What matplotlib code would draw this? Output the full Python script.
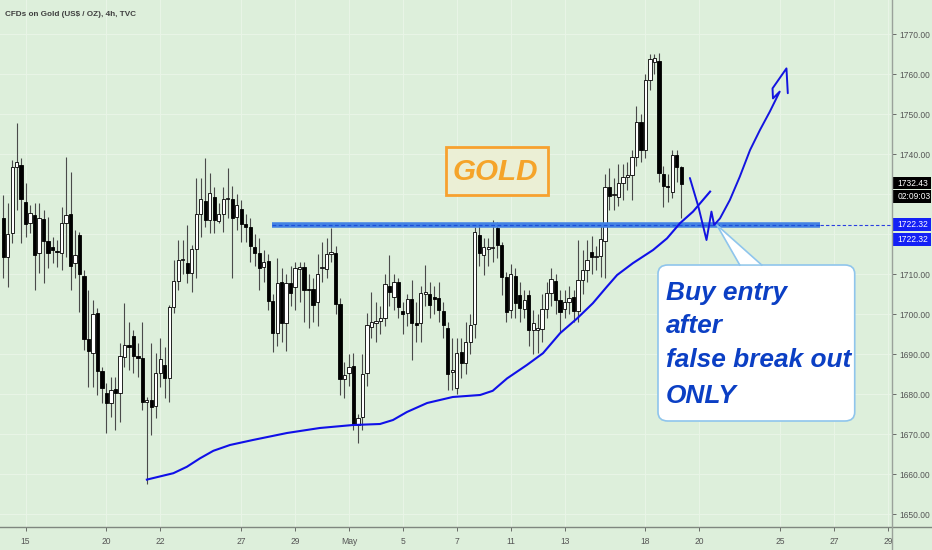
import matplotlib
matplotlib.use("Agg")
import matplotlib.pyplot as plt
import numpy as np
from matplotlib import font_manager
from matplotlib.patches import FancyBboxPatch, Rectangle, Polygon
from matplotlib.lines import Line2D

# 4h candles, first one is the 5th bar of Apr 14 (bar index -5)
opens = [1723.9, 1714.3, 1720.2, 1736.7, 1737.2, 1728.0, 1722.7, 1724.7, 1715.2, 1723.7,
         1718.2, 1716.8, 1715.6, 1715.2, 1722.7, 1725.0, 1712.7, 1719.7, 1709.6, 1693.7,
         1690.2, 1700.2, 1685.7, 1680.2, 1677.7, 1681.2, 1680.3, 1689.3, 1692.2, 1694.6,
         1689.5, 1688.9, 1678.0, 1678.5, 1677.0, 1685.2, 1687.2, 1684.1, 1701.8, 1708.3,
         1713.5, 1712.7, 1710.2, 1716.2, 1725.0, 1728.3, 1723.5, 1729.3, 1723.3, 1725.0,
         1728.7, 1728.7, 1724.3, 1726.2, 1722.5, 1721.7, 1716.7, 1715.3, 1711.7, 1713.3,
         1703.3, 1695.2, 1708.0, 1697.8, 1707.8, 1706.8, 1711.2, 1711.8, 1706.2, 1706.2,
         1703.1, 1711.4, 1711.2, 1715.0, 1715.3, 1702.5, 1683.7, 1685.3, 1687.1, 1672.2,
         1674.3, 1685.2, 1696.8, 1697.8, 1698.3, 1698.9, 1707.0, 1704.3, 1707.9, 1700.8,
         1700.2, 1703.7, 1697.8, 1697.7, 1705.0, 1705.0, 1704.3, 1703.9, 1700.8, 1696.4,
         1685.6, 1681.4, 1690.4, 1687.8, 1693.0, 1697.5, 1719.7, 1714.7, 1716.2, 1716.5,
         1721.4, 1717.2, 1709.2, 1701.0, 1709.5, 1704.7, 1701.2, 1704.7, 1696.0, 1696.0,
         1696.2, 1701.2, 1705.2, 1708.3, 1703.5, 1701.2, 1703.1, 1704.2, 1700.8, 1708.5,
         1711.0, 1715.6, 1714.2, 1714.4, 1718.3, 1731.8, 1729.7, 1729.3, 1732.7, 1734.2,
         1734.7, 1739.3, 1748.1, 1741.0, 1758.5, 1763.1, 1763.3, 1734.9, 1732.0, 1730.6,
         1739.7, 1736.7]
highs = [1729.7, 1727.7, 1738.5, 1747.7, 1739.0, 1732.7, 1727.2, 1727.7, 1727.7, 1726.0,
         1724.3, 1719.3, 1718.5, 1726.8, 1739.3, 1735.6, 1721.0, 1720.6, 1711.0, 1706.0,
         1703.5, 1701.4, 1686.8, 1682.7, 1684.3, 1684.3, 1692.7, 1702.7, 1698.0, 1696.0,
         1692.7, 1698.0, 1679.2, 1692.7, 1690.3, 1693.9, 1691.7, 1702.2, 1713.5, 1718.5,
         1718.5, 1722.2, 1717.2, 1733.9, 1733.9, 1738.9, 1735.3, 1731.8, 1727.7, 1731.8,
         1736.4, 1732.0, 1730.0, 1728.5, 1725.0, 1724.0, 1720.0, 1719.0, 1716.0, 1715.0,
         1705.0, 1714.0, 1711.5, 1710.0, 1712.0, 1713.0, 1713.0, 1713.0, 1710.0, 1709.0,
         1715.0, 1718.0, 1719.0, 1721.4, 1717.0, 1704.0, 1688.0, 1690.0, 1690.3, 1675.0,
         1690.0, 1700.2, 1705.6, 1703.0, 1702.0, 1710.0, 1714.7, 1710.0, 1709.0, 1703.0,
         1705.0, 1708.5, 1703.0, 1707.0, 1712.2, 1708.0, 1707.0, 1708.0, 1703.0, 1698.0,
         1694.0, 1694.0, 1694.0, 1698.0, 1700.0, 1721.8, 1722.5, 1719.0, 1719.0, 1723.5,
         1723.0, 1718.0, 1710.5, 1712.5, 1711.5, 1708.0, 1706.0, 1706.0, 1701.0, 1700.0,
         1705.0, 1708.0, 1711.5, 1710.0, 1706.0, 1706.0, 1707.0, 1706.0, 1718.5, 1716.0,
         1718.5, 1719.5, 1717.0, 1722.0, 1735.0, 1736.4, 1734.0, 1737.5, 1737.5, 1738.0,
         1741.0, 1752.0, 1750.0, 1760.0, 1765.0, 1765.0, 1765.2, 1737.0, 1735.0, 1741.0,
         1741.0, 1737.0]
lows = [1708.9, 1706.8, 1717.7, 1726.0, 1717.7, 1719.3, 1720.2, 1706.0, 1710.2, 1707.7,
        1711.4, 1712.7, 1711.8, 1711.0, 1714.3, 1706.0, 1709.0, 1700.6, 1691.0, 1681.8,
        1681.8, 1679.7, 1677.7, 1670.3, 1674.3, 1671.0, 1673.1, 1686.8, 1686.0, 1685.2,
        1684.3, 1676.0, 1657.5, 1669.7, 1674.0, 1681.8, 1678.9, 1678.0, 1700.2, 1706.0,
        1710.0, 1707.7, 1705.6, 1709.0, 1719.3, 1721.7, 1720.2, 1720.2, 1722.7, 1720.6,
        1724.0, 1709.0, 1721.0, 1718.0, 1718.0, 1713.0, 1712.0, 1706.0, 1708.0, 1701.0,
        1690.6, 1692.0, 1693.0, 1690.7, 1702.0, 1701.0, 1703.0, 1698.0, 1696.6, 1698.0,
        1697.0, 1708.0, 1709.0, 1713.0, 1700.0, 1679.8, 1679.0, 1682.0, 1671.0, 1667.8,
        1671.0, 1682.0, 1694.0, 1693.0, 1695.0, 1697.0, 1702.0, 1701.0, 1699.0, 1695.0,
        1697.0, 1688.5, 1693.0, 1693.0, 1702.0, 1699.0, 1700.0, 1698.0, 1694.0, 1681.0,
        1681.0, 1680.0, 1684.0, 1685.0, 1690.0, 1694.0, 1712.0, 1709.7, 1712.0, 1713.0,
        1714.0, 1704.7, 1698.0, 1699.0, 1699.0, 1698.0, 1699.0, 1692.0, 1690.0, 1690.2,
        1693.0, 1699.0, 1702.0, 1700.0, 1695.6, 1699.0, 1700.0, 1698.0, 1698.0, 1705.0,
        1708.0, 1710.0, 1711.0, 1709.2, 1709.0, 1726.0, 1726.0, 1727.0, 1728.5, 1731.0,
        1728.5, 1737.0, 1738.0, 1739.0, 1756.0, 1760.0, 1733.0, 1726.8, 1728.0, 1729.0,
        1733.0, 1723.9]
closes = [1714.3, 1720.0, 1736.8, 1738.1, 1728.7, 1722.4, 1725.2, 1714.7, 1723.9, 1718.3,
          1715.3, 1716.0, 1715.4, 1722.7, 1724.7, 1712.0, 1714.7, 1709.9, 1693.8, 1690.8,
          1700.0, 1685.7, 1681.6, 1677.8, 1681.0, 1680.2, 1689.5, 1692.2, 1691.8, 1689.5,
          1688.9, 1678.0, 1678.5, 1676.8, 1685.2, 1688.7, 1684.1, 1701.8, 1708.3, 1713.5,
          1713.6, 1710.2, 1716.2, 1725.0, 1728.7, 1723.5, 1730.3, 1723.5, 1725.0, 1728.7,
          1728.9, 1723.9, 1727.2, 1722.5, 1721.7, 1717.0, 1715.3, 1711.4, 1713.1, 1703.3,
          1695.2, 1707.8, 1697.8, 1707.7, 1705.3, 1711.4, 1711.8, 1706.0, 1706.0, 1702.2,
          1710.0, 1711.8, 1715.0, 1715.6, 1702.5, 1683.8, 1684.7, 1686.8, 1672.2, 1673.9,
          1685.0, 1697.2, 1698.0, 1698.3, 1698.9, 1707.5, 1705.6, 1708.1, 1701.7, 1699.9,
          1703.7, 1697.7, 1697.2, 1705.2, 1705.6, 1702.2, 1703.7, 1701.0, 1697.2, 1685.0,
          1685.9, 1690.3, 1687.7, 1693.0, 1697.2, 1720.6, 1715.2, 1716.7, 1716.8, 1716.7,
          1717.2, 1709.2, 1700.6, 1709.9, 1702.7, 1701.4, 1703.5, 1696.0, 1697.7, 1696.4,
          1701.2, 1705.2, 1708.7, 1703.5, 1700.6, 1703.1, 1704.0, 1700.8, 1708.5, 1711.0,
          1713.5, 1714.2, 1714.4, 1718.7, 1731.8, 1729.5, 1729.8, 1732.7, 1734.2, 1734.7,
          1739.3, 1748.1, 1741.0, 1758.5, 1763.7, 1763.9, 1735.2, 1732.0, 1731.7, 1739.7,
          1736.8, 1732.43]

# rising average from the Apr 21 low (bar index, price)
ma_bar = [27.0, 32.9, 35.9, 38.8, 41.8, 45.5, 50.6, 58.2, 65.5, 72.9, 78.9, 81.8, 84.9,
          89.4, 95.1, 101.2, 104.0, 107.2, 111.6, 115.2, 119.0, 122.8, 126.3, 129.4,
          131.7, 135.2, 139.7, 142.8, 145.7, 148.6, 152.4]
ma_val = [1658.6, 1660.2, 1661.8, 1663.9, 1665.8, 1667.25, 1668.5, 1670.25, 1671.5,
          1672.25, 1672.5, 1673.5, 1675.5, 1677.75, 1679.25, 1679.75, 1680.8, 1683.9,
          1687.25, 1690.2, 1695.2, 1698.9, 1702.7, 1706.8, 1709.75, 1712.7, 1716.0,
          1718.9, 1722.7, 1725.6, 1730.6]

# hand drawn path: dip below the level, then up with an arrow hook
draw_bar = [147.9, 149.8, 151.6, 152.7, 153.3, 154.6, 156.8, 159.0, 161.3, 163.5, 165.7,
            167.9, 166.4, 166.3, 169.4, 169.7]
draw_val = [1734.0, 1726.8, 1718.5, 1725.6, 1722.25, 1723.9, 1728.5, 1734.3, 1741.0,
            1746.0, 1750.6, 1755.6, 1753.9, 1756.4, 1761.4, 1755.2]

level = 1722.32
last_close = 1732.43
countdown = "02:09:03"

day_idx = [0, 3, 5, 8, 10, 12, 14, 16, 18, 20, 23, 25, 28, 30, 32]
day_lbl = ["15", "20", "22", "27", "29", "May", "5", "7", "11", "13", "18", "20", "25",
           "27", "29"]
price_ticks = list(range(1650, 1771, 10))
hidden_ticks = [1720, 1730]  # covered by the price tags

note_lines = ["Buy entry", "after", "false break out", "ONLY"]

BG = "#ddefdb"
GRID = "#e8f4e6"

names = {f.name for f in font_manager.fontManager.ttflist}
if "Liberation Sans Narrow" in names:
    FAM, SC = "Liberation Sans Narrow", 1.0
else:
    FAM, SC = "Liberation Sans", 0.82

fig = plt.figure(figsize=(9.32, 5.5), dpi=100)
fig.patch.set_facecolor(BG)
ax = fig.add_axes([0, 23 / 550, 892 / 932, 527 / 550])
ax.set_facecolor(BG)
ax.set_xlim(-5.7, 192.9)
ax.set_ylim(1646.75, 1778.5)
for s in ax.spines.values():
    s.set_visible(False)

# frame lines running to the figure edges
fig.add_artist(Line2D([0, 1], [23 / 550] * 2, transform=fig.transFigure,
                      color="#7f877f", lw=1))
fig.add_artist(Line2D([892 / 932] * 2, [0, 1], transform=fig.transFigure,
                      color="#9aa29a", lw=1))

ax.yaxis.tick_right()
ax.set_yticks(price_ticks)
ax.set_yticklabels(["" if p in hidden_ticks else "%.2f" % p for p in price_ticks])
ax.set_xticks([6 * d for d in day_idx])
ax.set_xticklabels(day_lbl)
ax.tick_params(axis="y", length=3, width=0.6, pad=2, colors="#555555",
               labelsize=7.5 * SC)
ax.tick_params(axis="x", length=3, width=0.6, pad=4, colors="#555555",
               labelsize=7.5 * SC)
for t in ax.get_xticklabels() + ax.get_yticklabels():
    t.set_family(FAM)
ax.grid(color=GRID, lw=0.8)
ax.set_axisbelow(True)

# candles
idx = np.arange(-5, -5 + len(opens))
o = np.array(opens)
c = np.array(closes)
up = c >= o
ax.vlines(idx, lows, highs, color="#4a4a4a", lw=0.8, zorder=2)
body = np.maximum(np.abs(c - o), 0.25)
ax.bar(idx, body, bottom=np.minimum(o, c), width=0.72,
       color=np.where(up, "white", "black"), edgecolor="black", lw=0.6, zorder=3)

# average line and hand drawing
ax.plot(ma_bar, ma_val, color="#1010e8", lw=1.5, zorder=4)
ax.plot(draw_bar, draw_val, color="#1414e0", lw=1.4, zorder=4,
        solid_capstyle="round", solid_joinstyle="round")

# horizontal level
ax.plot([54.9, 176.8], [level, level], color="#4383e4", lw=4, zorder=3.5,
        solid_capstyle="butt")
ax.plot([54.9, 176.8], [level, level], color="#1d4fd8", lw=0.9, ls=(0, (3, 2)),
        zorder=3.6)
ax.plot([176.8, 192.9], [level, level], color="#2a3fe0", lw=0.8, ls=(0, (3, 2)),
        zorder=3.6)

# GOLD tag
ax.add_patch(Rectangle((93.6, 1729.75), 22.7, 12.0, fc="#ebefd5", ec="#f7a12f",
                       lw=2, zorder=5))
ax.text(104.6, 1735.6, "GOLD", color="#f5a42a", fontsize=26 * SC, family=FAM,
        weight="bold", style="italic", ha="center", va="center", zorder=6)

# callout box
ax.add_patch(FancyBboxPatch((140.8, 1673.25), 43.8, 39.0,
                            boxstyle="round,pad=0,rounding_size=2.2",
                            fc="white", ec="#8fc5ec", lw=1.2, zorder=6))
ax.add_patch(Polygon([(159.0, 1712.45), (153.9, 1722.25), (163.9, 1712.45)],
                     closed=True, fc="white", ec="none", zorder=7))
ax.plot([159.0, 153.9, 163.9], [1712.25, 1722.25, 1712.25], color="#8fc5ec",
        lw=1.2, zorder=7.5)
for line, y in zip(note_lines, [1703.5, 1695.25, 1686.75, 1677.75]):
    ax.text(142.6, y, line, color="#0b3fc4", fontsize=23 * SC, family=FAM,
            weight="bold", style="italic", ha="left", va="baseline", zorder=8)

# title
ax.text(5 / 892, 1 - 14.5 / 527, "CFDs on Gold (US$ / OZ), 4h, TVC",
        transform=ax.transAxes, color="#3f3f3f", fontsize=7.2 * SC, family=FAM,
        weight="bold", ha="left", va="center")

# price tags on the right scale: box spans the whole scale width
ytr = ax.get_yaxis_transform()
tags = [(last_close - 1.3, "%.2f" % last_close, "black"),
        (last_close - 4.6, countdown, "black"),
        (level - 1.45, "%.2f" % level, "#1420f5"),
        (level - 5.2, "%.2f" % level, "#1420f5")]
for y0, s, col in tags:
    ax.add_patch(Rectangle((1.0, y0), 0.0435, 3.2, transform=ytr, fc=col,
                           ec="none", clip_on=False, zorder=9))
    ax.text(1.0065, y0 + 1.6, s, transform=ytr, color="white", fontsize=7.5 * SC,
            family=FAM, ha="left", va="center", zorder=10)

fig.savefig("out.png", dpi=100, facecolor=BG)
